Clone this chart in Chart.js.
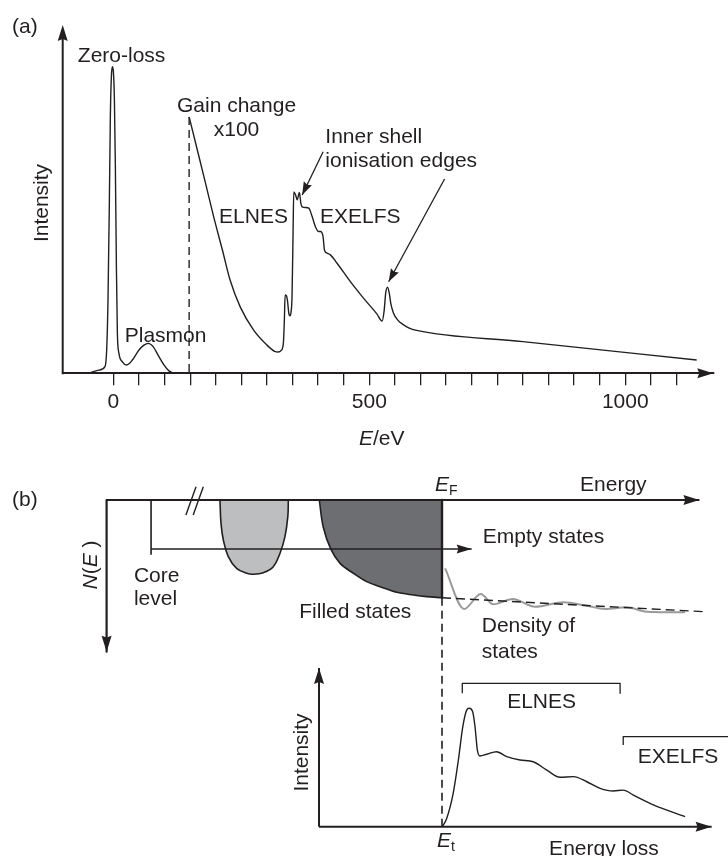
<!DOCTYPE html>
<html><head><meta charset="utf-8">
<script src="https://cdn.jsdelivr.net/npm/chart.js@4.4.1/dist/chart.umd.min.js"></script>
<style>
html,body{margin:0;padding:0;background:#fff;}
#wrap{position:relative;width:728px;height:856px;overflow:hidden;background:#fff;}
canvas{position:absolute;left:0;}
#ca{top:0;width:728px;height:450px;}
#cb{top:440px;width:728px;height:416px;}
</style></head><body>
<div id="wrap"><canvas id="ca" width="728" height="450"></canvas><canvas id="cb" width="728" height="416"></canvas></div>
<script>
const INK = '#231f20';
const FONT = '"Liberation Sans", Arial, Helvetica, sans-serif';
const FS = 21;

// ---------- Panel (a): EELS spectrum (E in eV, intensity arb.) ----------
const zeroLossE = [-44.3, -28.1, -16.4, -13.1, -10.5, -7.8, -5.9, -3.9, -2.0, 0, 2.0, 3.9, 5.9, 7.8, 10.9, 17.6, 26, 37.1, 50, 59.7, 68.3, 78, 87, 98.7, 108.5, 118.2];
const zeroLossI = [0.2, 0.9, 1.9, 6.7, 21.0, 49.8, 73.7, 85.2, 88.0, 86.6, 78.5, 59.3, 30.6, 11.5, 5.7, 3.3, 2.4, 3.8, 6.7, 8.1, 8.6, 7.6, 5.3, 2.4, 0.7, 0];
const coreLossE = [148, 164, 180, 196, 213, 228, 248, 274, 300, 315, 322, 328, 332, 334, 335.5, 338, 340, 343, 345, 347, 349, 351, 352.4, 356, 359, 363.5, 366, 368.8, 375.2, 381.7, 388.3, 394.7, 401.2, 404.5, 409.7, 412.3, 417.6, 424, 437, 463, 489, 515, 525, 529, 532, 535.5, 539, 542, 547.5, 556, 567, 578, 590, 800, 1139.5];
const coreLossI = [73.6, 64.1, 54.6, 44.9, 35.4, 26.8, 19.0, 12.4, 8.1, 6.3, 6.1, 6.6, 8.5, 15, 22.5, 22.3, 21, 17, 16.5, 17.5, 22, 40, 52.1, 51.2, 49.8, 51.9, 49, 47.8, 47.6, 47.4, 45.0, 42.1, 40.7, 40.7, 39.2, 35.4, 34.5, 34.0, 31.6, 26.3, 21.5, 17.0, 15.0, 18, 23.0, 24.7, 23, 20, 17.2, 15.2, 13.9, 13, 12.4, 9.1, 3.8];
const gainChangeE = [148, 148];
const gainChangeI = [73.6, 0];
const edgeArrow1E = [409.8, 368.8];
const edgeArrow1I = [63.6, 51.2];
const edgeArrow2E = [647, 537.8];
const edgeArrow2I = [55.8, 26.3];
const xTickValues = [0, 50, 100, 150, 200, 250, 300, 350, 400, 450, 500, 550, 600, 650, 700, 750, 800, 850, 900, 950, 1000, 1050, 1100];
const xTickLabelValues = [0, 500, 1000];

// ---------- Panel (b): schematic (x: energy units, yN: N(E) downward, yI: intensity) ----------
const energyAxisX = [-129, 99];   const energyAxisN = [0, 0];
const nAxisX = [-129, -129];      const nAxisN = [0, 94.8];
const coreLevelX = [-111.9, -111.9]; const coreLevelN = [0, 33.9];
const transitionX = [-111.9, 11.4];  const transitionN = [30.6, 30.6];
const breakAX = [-98.5, -94.6];   const breakAN = [9.4, -8.3];
const breakBX = [-95.7, -91.8];   const breakBN = [9.4, -8.3];
const bandLightX = [-85.4, -85.0, -84.1, -82.2, -79.0, -75.1, -72.6, -68.7, -64.9, -62.3, -60.4, -59.3, -59.1];
const bandLightN = [0, 14.6, 25, 35.4, 42.7, 45.8, 46.4, 45.4, 41.7, 33.3, 22.9, 10.4, 0];
const bandDarkX = [-47.2, -45.7, -42.8, -39.2, -34.1, -29.0, -23.8, -17.4, -11.0, -5.9, 0];
const bandDarkN = [0, 16.7, 30.6, 39.6, 45.8, 51.0, 54.2, 57.7, 59.4, 60.4, 61.1];
const fermiEdgeX = [0, 0];        const fermiEdgeN = [0, 61.1];
const fermiDashX = [0, 0];        const fermiDashN = [61.1, 204.2];
const dosX = [1.2, 8.5, 14.9, 19.7, 27.2, 35.8, 46.7, 55.7, 62.7, 71.0, 78.7, 93.5];
const dosN = [42.7, 68.1, 58.75, 65.2, 61.9, 66.7, 63.9, 66.1, 68.1, 67.1, 69.8, 70.2];
const dosTrendX = [0, 100.5];     const dosTrendN = [61.1, 69.8];
const intAxisX = [-47.3, -47.3];  const intAxisI = [0, 99.2];
const lossAxisX = [-47.3, 103.7]; const lossAxisI = [0, 0];
const edgeX = [0.1, 1.8, 4.3, 6.3, 8.0, 9.5, 10.5, 11.8, 12.7, 13.6, 14.6, 17.2, 21.0, 24.9, 30.0, 35.1, 40.3, 45.4, 50.5, 55.7, 60.8, 65.9, 69.7, 73.6, 81.3, 93.5];
const edgeI = [0, 5.2, 20.9, 41.7, 62.5, 72.9, 74, 71.9, 62.5, 47.9, 44.2, 45.3, 46.9, 43.8, 41.7, 40.6, 35.4, 30.9, 31.3, 28.1, 24, 22.3, 22.9, 19.8, 13.6, 6.3];
const elnesBracketX = [7.8, 7.8, 68.5, 68.5];   const elnesBracketI = [83.4, 89.6, 89.6, 83.4];
const exelfsBracketX = [69.7, 69.7, 112];       const exelfsBracketI = [51.1, 56.3, 56.3];

function pts(xs, ys) { return xs.map((x, i) => ({ x: x, y: ys[i] })); }

function drawRich(ctx, segs, x, y, align, size, rot) {
  ctx.save();
  ctx.translate(x, y);
  if (rot) ctx.rotate(rot * Math.PI / 180);
  ctx.fillStyle = INK;
  ctx.textBaseline = 'alphabetic';
  ctx.textAlign = 'left';
  const fontOf = s => (s.i ? 'italic ' : '') + (s.sub ? Math.round(size * 0.68) : size) + 'px ' + FONT;
  let w = 0;
  const widths = segs.map(s => { ctx.font = fontOf(s); const m = ctx.measureText(s.t).width; w += m; return m; });
  let cx = align === 'center' ? -w / 2 : 0;
  const base = size * 0.358;
  segs.forEach((s, k) => {
    ctx.font = fontOf(s);
    ctx.fillText(s.t, cx, base + (s.sub ? size * 0.22 : 0));
    cx += widths[k];
  });
  ctx.restore();
}

function drawHead(ctx, x0, y0, x1, y1, len, half) {
  const ang = Math.atan2(y1 - y0, x1 - x0);
  ctx.save();
  ctx.translate(x1, y1);
  ctx.rotate(ang);
  ctx.fillStyle = INK;
  ctx.beginPath();
  ctx.moveTo(0, 0);
  ctx.lineTo(-len, half);
  ctx.lineTo(-len * 0.88, 0);
  ctx.lineTo(-len, -half);
  ctx.closePath();
  ctx.fill();
  ctx.restore();
}

const arrowPlugin = {
  id: 'arrowHeads',
  afterDatasetsDraw(chart) {
    const ctx = chart.ctx;
    chart.data.datasets.forEach((ds, i) => {
      if (!ds.arrowHead) return;
      const el = chart.getDatasetMeta(i).data;
      const a = el[el.length - 2], b = el[el.length - 1];
      drawHead(ctx, a.x, a.y, b.x, b.y, ds.arrowHead[0], ds.arrowHead[1]);
    });
  }
};

// Labels for panel (a), data units (eV, intensity)
const panelALabels = [
  { segs: [{ t: 'Zero-loss' }], x: 16, y: 91.5, align: 'center' },
  { segs: [{ t: 'Gain change' }], x: 240.6, y: 77.3, align: 'center' },
  { segs: [{ t: 'x100' }], x: 240.6, y: 70.4, align: 'center' },
  { segs: [{ t: 'Inner shell' }], x: 414, y: 68.3, align: 'left' },
  { segs: [{ t: 'ionisation edges' }], x: 414, y: 61.4, align: 'left' },
  { segs: [{ t: 'ELNES' }], x: 273.8, y: 45.4, align: 'center' },
  { segs: [{ t: 'EXELFS' }], x: 482.5, y: 45.4, align: 'center' },
  { segs: [{ t: 'Plasmon' }], x: 102, y: 11.1, align: 'center' }
];
// Labels for panel (a), canvas pixels
const panelAFixed = [
  { segs: [{ t: '(a)' }], px: 12, py: 25, align: 'left' },
  { segs: [{ t: 'Intensity' }], px: 40, py: 203, align: 'center', rot: -90 },
  { segs: [{ t: 'E', i: 1 }, { t: '/eV' }], px: 381.7, py: 437.5, align: 'center' }
];

const panelAPlugin = {
  id: 'panelA',
  afterDraw(chart) {
    const ctx = chart.ctx, ca = chart.chartArea, sx = chart.scales.x, sy = chart.scales.y;
    ctx.save();
    ctx.strokeStyle = INK; ctx.lineWidth = 2;
    ctx.beginPath(); ctx.moveTo(ca.left, ca.bottom + 1); ctx.lineTo(ca.left, ca.top + 6); ctx.stroke();
    ctx.restore();
    drawHead(ctx, ca.left, ca.bottom, ca.left, ca.top, 16, 5);
    drawHead(ctx, ca.left, ca.bottom, ca.right, ca.bottom, 16, 5);
    panelALabels.forEach(l => drawRich(ctx, l.segs, sx.getPixelForValue(l.x), sy.getPixelForValue(l.y), l.align, FS, l.rot));
    panelAFixed.forEach(l => drawRich(ctx, l.segs, l.px, l.py, l.align, FS, l.rot));
  }
};

const lineBase = { borderColor: INK, pointRadius: 0, fill: false, borderJoinStyle: 'round' };

new Chart(document.getElementById('ca'), {
  type: 'line',
  data: {
    datasets: [
      Object.assign({ data: pts(zeroLossE, zeroLossI), borderWidth: 1.4, cubicInterpolationMode: 'monotone' }, lineBase),
      Object.assign({ data: pts(coreLossE, coreLossI), borderWidth: 1.4, cubicInterpolationMode: 'monotone' }, lineBase),
      Object.assign({ data: pts(gainChangeE, gainChangeI), borderWidth: 1.4, borderDash: [8, 5] }, lineBase),
      Object.assign({ data: pts(edgeArrow1E, edgeArrow1I), borderWidth: 1.3, arrowHead: [13, 4.5] }, lineBase),
      Object.assign({ data: pts(edgeArrow2E, edgeArrow2I), borderWidth: 1.3, arrowHead: [13, 4.5] }, lineBase)
    ]
  },
  options: {
    responsive: false, animation: false, devicePixelRatio: 1,
    layout: { padding: { left: 62.7, top: 25, right: 14.7, bottom: 0 } },
    plugins: { legend: { display: false }, tooltip: { enabled: false } },
    scales: {
      x: {
        type: 'linear', min: -99, max: 1172,
        afterBuildTicks: s => { s.ticks = xTickValues.map(v => ({ value: v })); },
        afterFit: s => { s.height = 450 - 373.3; },
        grid: { drawOnChartArea: false, drawTicks: true, tickLength: 12, color: INK, lineWidth: 1.3 },
        border: { display: true, color: INK, width: 2 },
        ticks: {
          autoSkip: false, maxRotation: 0, minRotation: 0, padding: 4, color: INK,
          font: { family: FONT, size: FS },
          callback: v => xTickLabelValues.includes(v) ? String(v) : ''
        }
      },
      y: { type: 'linear', min: 0, max: 100, display: false }
    }
  },
  plugins: [arrowPlugin, panelAPlugin]
});

// Labels for panel (b), data units (x, yN)
const panelBLabels = [
  { segs: [{ t: '(b)' }], x: -165.4, y: -1.25, align: 'left' },
  { segs: [{ t: 'E', i: 1 }, { t: 'F', sub: 1 }], x: 1.6, y: -10.4, align: 'center' },
  { segs: [{ t: 'Energy' }], x: 65.9, y: -10.4, align: 'center' },
  { segs: [{ t: 'Empty states' }], x: 15.7, y: 21.9, align: 'left' },
  { segs: [{ t: 'Core' }], x: -118.5, y: 46.4, align: 'left' },
  { segs: [{ t: 'level' }], x: -118.5, y: 61.1, align: 'left' },
  { segs: [{ t: 'N', i: 1 }, { t: '(' }, { t: 'E', i: 1 }, { t: ' )' }], x: -135.4, y: 40.6, align: 'center', rot: -90 },
  { segs: [{ t: 'Filled states' }], x: -54.9, y: 68.75, align: 'left' },
  { segs: [{ t: 'Density of' }], x: 15.3, y: 78.1, align: 'left' },
  { segs: [{ t: 'states' }], x: 15.3, y: 93.75, align: 'left' },
  { segs: [{ t: 'Intensity' }], x: -54.6, y: 157.8, align: 'center', rot: -90 },
  { segs: [{ t: 'ELNES' }], x: 38.3, y: 125, align: 'center' },
  { segs: [{ t: 'EXELFS' }], x: 90.8, y: 159.4, align: 'center' },
  { segs: [{ t: 'E', i: 1 }, { t: 't', sub: 1 }], x: 1.5, y: 211.9, align: 'center' },
  { segs: [{ t: 'Energy loss' }], x: 62.3, y: 217.2, align: 'center' }
];

const panelBPlugin = {
  id: 'panelB',
  afterDraw(chart) {
    const ctx = chart.ctx, sx = chart.scales.x, sy = chart.scales.yN;
    panelBLabels.forEach(l => drawRich(ctx, l.segs, sx.getPixelForValue(l.x), sy.getPixelForValue(l.y), l.align, FS, l.rot));
  }
};

const nLine = (xs, ys, extra) => Object.assign({ data: pts(xs, ys), yAxisID: 'yN' }, lineBase, extra);
const iLine = (xs, ys, extra) => Object.assign({ data: pts(xs, ys), yAxisID: 'yI' }, lineBase, extra);

new Chart(document.getElementById('cb'), {
  type: 'line',
  data: {
    datasets: [
      nLine(energyAxisX, energyAxisN, { borderWidth: 2.2, arrowHead: [16, 5], order: 1 }),
      nLine(nAxisX, nAxisN, { borderWidth: 2.2, arrowHead: [16, 5], order: 1 }),
      nLine(coreLevelX, coreLevelN, { borderWidth: 1.6, order: 1 }),
      nLine(transitionX, transitionN, { borderWidth: 1.6, arrowHead: [15, 4.5], order: 1 }),
      nLine(breakAX, breakAN, { borderWidth: 1.4, order: 1 }),
      nLine(breakBX, breakBN, { borderWidth: 1.4, order: 1 }),
      nLine(fermiEdgeX, fermiEdgeN, { borderWidth: 2.4, order: 1 }),
      nLine(fermiDashX, fermiDashN, { borderWidth: 1.6, borderDash: [8, 5], order: 1 }),
      nLine(dosTrendX, dosTrendN, { borderWidth: 1.4, borderDash: [9, 5], order: 1 }),
      nLine(dosX, dosN, { borderWidth: 2, borderColor: '#9a9a9c', cubicInterpolationMode: 'monotone', order: 2 }),
      nLine(bandLightX, bandLightN, { borderWidth: 1.6, tension: 0.4, fill: 'origin', backgroundColor: '#bcbec0', order: 5 }),
      nLine(bandDarkX, bandDarkN, { borderWidth: 1.6, tension: 0.35, fill: 'origin', backgroundColor: '#6d6e71', order: 5 }),
      iLine(intAxisX, intAxisI, { borderWidth: 2, arrowHead: [16, 5], order: 1 }),
      iLine(lossAxisX, lossAxisI, { borderWidth: 2, arrowHead: [16, 5], order: 1 }),
      iLine(edgeX, edgeI, { borderWidth: 1.4, cubicInterpolationMode: 'monotone', order: 1 }),
      iLine(elnesBracketX, elnesBracketI, { borderWidth: 1.3, order: 1 }),
      iLine(exelfsBracketX, exelfsBracketI, { borderWidth: 1.3, order: 1 })
    ]
  },
  options: {
    responsive: false, animation: false, devicePixelRatio: 1,
    layout: { padding: 0 },
    plugins: { legend: { display: false }, tooltip: { enabled: false } },
    scales: {
      x: { type: 'linear', min: -170, max: 110, display: false },
      yN: { axis: 'y', type: 'linear', reverse: true, min: -37.5, max: 222.5, display: false },
      yI: { axis: 'y', type: 'linear', min: -18.3, max: 241.7, display: false }
    }
  },
  plugins: [arrowPlugin, panelBPlugin]
});
</script>
</body></html>
